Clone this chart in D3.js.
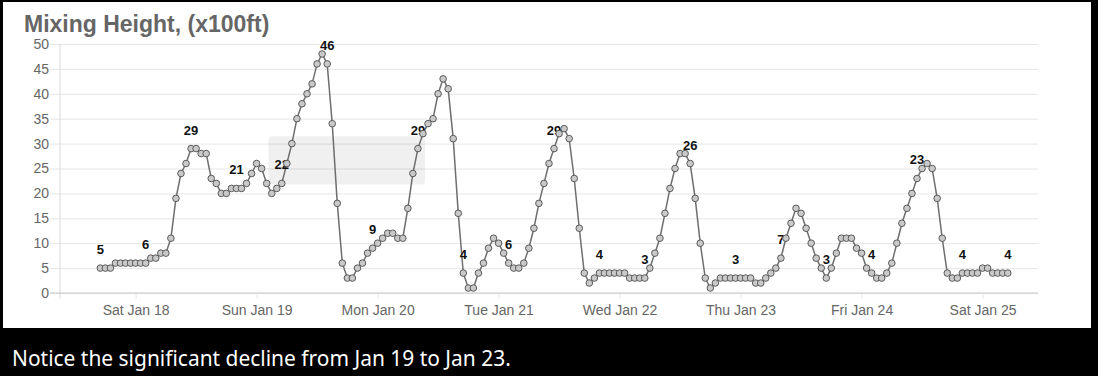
<!DOCTYPE html>
<html>
<head>
<meta charset="utf-8">
<script src="https://cdn.jsdelivr.net/npm/d3@7"></script>
<style>
  html, body { margin: 0; padding: 0; background: #000; }
  svg { display: block; }
</style>
</head>
<body>
<svg id="chart" width="1098" height="376"></svg>
<script>
// ---- data ----
const title = "Mixing Height, (x100ft)";
const caption = "Notice the significant decline from Jan 19 to Jan 23.";
const startTime = "2020-01-17T17:00:00"; // first hourly reading
const mixingHeight = [
  5, 5, 5, 6, 6, 6, 6, 6, 6, 6, 7, 7, 8, 8, 11, 19, 24, 26, 29, 29,
  28, 28, 23, 22, 20, 20, 21, 21, 21, 22, 24, 26, 25, 22, 20, 21, 22, 26, 30, 35,
  38, 40, 42, 46, 48, 46, 34, 18, 6, 3, 3, 5, 6, 8, 9, 10, 11, 12, 12, 11,
  11, 17, 24, 29, 32, 34, 35, 40, 43, 41, 31, 16, 4, 1, 1, 4, 6, 9, 11, 10,
  8, 6, 5, 5, 6, 9, 13, 18, 22, 26, 29, 32, 33, 31, 23, 13, 4, 2, 3, 4,
  4, 4, 4, 4, 4, 3, 3, 3, 3, 5, 8, 11, 16, 21, 25, 28, 28, 26, 19, 10,
  3, 1, 2, 3, 3, 3, 3, 3, 3, 3, 2, 2, 3, 4, 5, 7, 11, 14, 17, 16,
  13, 10, 7, 5, 3, 5, 8, 11, 11, 11, 9, 8, 5, 4, 3, 3, 4, 6, 10, 14,
  17, 20, 23, 25, 26, 25, 19, 11, 4, 3, 3, 4, 4, 4, 4, 5, 5, 4, 4, 4,
  4
];
const labelEvery = 9;
const xDomain = ["2020-01-17T09:00:00", "2020-01-25T11:00:00"];
const xTickDays = ["2020-01-18", "2020-01-19", "2020-01-20", "2020-01-21", "2020-01-22", "2020-01-23", "2020-01-24", "2020-01-25"];
const yTicks = [0, 5, 10, 15, 20, 25, 30, 35, 40, 45, 50];
const highlightBox = { x0: "2020-01-19T02:20:00", x1: "2020-01-20T09:25:00", y0: 21.8, y1: 31.5 };

// ---- build ----
const parse = s => new Date(s);
const t0 = parse(startTime);
const series = mixingHeight.map((v, i) => ({ t: new Date(t0.getTime() + i * 3600e3), v, i }));

const svg = d3.select("#chart");
const W = 1098, H = 376;
const plot = { left: 60, right: 1038, top: 44, bottom: 293 };

svg.append("rect").attr("x", 0).attr("y", 0).attr("width", W).attr("height", H).attr("fill", "#000");
svg.append("rect").attr("x", 3).attr("y", 2).attr("width", 1088).attr("height", 326).attr("fill", "#fff");

const x = d3.scaleTime().domain(xDomain.map(parse)).range([plot.left, plot.right]);
const y = d3.scaleLinear().domain([0, 50]).range([plot.bottom, plot.top]);

const font = "'Liberation Sans', Arial, Helvetica, sans-serif";

// title
svg.append("text").attr("x", 24).attr("y", 32)
  .attr("font-family", font).attr("font-size", 23).attr("font-weight", "bold")
  .attr("fill", "#666").text(title);

// y axis gridlines
const yAxis = d3.axisLeft(y).tickValues(yTicks).tickSize(-(plot.right - plot.left)).tickPadding(11);
const gy = svg.append("g").attr("transform", `translate(${plot.left},0)`).call(yAxis);
gy.select(".domain").remove();
gy.selectAll(".tick line").attr("stroke", "#e6e6e6").attr("x1", -10);
gy.selectAll(".tick text").attr("font-family", font).attr("font-size", 14).attr("fill", "#666");

// x axis gridlines
const xAxis = d3.axisBottom(x).tickValues(xTickDays.map(parse))
  .tickFormat(d3.timeFormat("%a %b %-d")).tickSize(-(plot.bottom - plot.top)).tickPadding(12);
const gx = svg.append("g").attr("transform", `translate(0,${plot.bottom})`).call(xAxis);
gx.select(".domain").remove();
gx.selectAll(".tick line").attr("stroke", "#e6e6e6").attr("y2", 6);
gx.selectAll(".tick text").attr("font-family", font).attr("font-size", 14).attr("fill", "#666");

// axis lines
svg.append("line").attr("x1", plot.left).attr("x2", plot.left).attr("y1", plot.top).attr("y2", plot.bottom + 6).attr("stroke", "#d9d9d9");
svg.append("line").attr("x1", plot.left - 10).attr("x2", plot.right).attr("y1", y(0)).attr("y2", y(0)).attr("stroke", "#c8c8c8");

// highlight box
svg.append("rect")
  .attr("x", x(parse(highlightBox.x0))).attr("y", y(highlightBox.y1))
  .attr("width", x(parse(highlightBox.x1)) - x(parse(highlightBox.x0)))
  .attr("height", y(highlightBox.y0) - y(highlightBox.y1))
  .attr("rx", 4).attr("fill", "#000").attr("fill-opacity", 0.06);

// line
const line = d3.line().x(d => x(d.t)).y(d => y(d.v));
svg.append("path").datum(series).attr("d", line)
  .attr("fill", "none").attr("stroke", "#6e6e6e").attr("stroke-width", 1.5);

// data labels
svg.append("g").selectAll("text").data(series.filter(d => d.i % labelEvery === 0)).join("text")
  .attr("x", d => x(d.t)).attr("y", d => y(d.v) - 14)
  .attr("text-anchor", "middle")
  .attr("font-family", font).attr("font-size", 13).attr("font-weight", "bold")
  .attr("fill", "#111").text(d => d.v);

// points
svg.append("g").selectAll("circle").data(series).join("circle")
  .attr("cx", d => x(d.t)).attr("cy", d => y(d.v)).attr("r", 3.3)
  .attr("fill", "#c9c9c9").attr("stroke", "#5a5a5a").attr("stroke-width", 1);

// caption
const cap = svg.append("text").attr("x", 12).attr("y", 366)
  .attr("font-family", "'Noto Sans', 'Open Sans', sans-serif").attr("font-size", 19)
  .attr("fill", "#fff").text(caption);
const targetW = 499;
const w = cap.node().getComputedTextLength();
cap.attr("font-size", 19 * targetW / w);
</script>
</body>
</html>
